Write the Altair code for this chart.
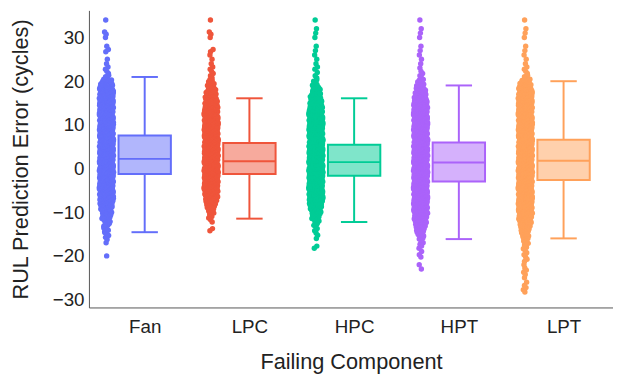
import altair as alt
import pandas as pd

categories = ["Fan", "LPC", "HPC", "HPT", "LPT"]
colors = ["#636efa", "#EF553B", "#00cc96", "#ab63fa", "#FFA15A"]

# histogram of the jittered points: 1-cycle bins centred at -29 ... 34
bin_centers = list(range(-29, 35))
fan_counts = [0, 0, 0, 0, 0, 0, 0, 0, 0,
              1, 0, 0, 1, 2, 3, 4, 5, 7, 10, 13, 17, 20,
              24, 24, 24, 24, 24, 24, 24, 24, 24, 24, 24, 24, 24,
              24, 24, 24, 24, 24, 24, 24, 24, 24, 24, 24, 24, 24,
              20, 12, 3, 2, 2, 1, 1, 0, 2, 1, 0, 1, 2, 0, 0, 1]
lpc_counts = [0, 0, 0, 0, 0, 0, 0, 0, 0, 0, 0, 0, 0, 0, 0,
              2, 0, 2, 3, 5, 8, 12, 17, 21,
              24, 24, 24, 24, 24, 24, 24, 24, 24, 24,
              24, 24, 24, 24, 24, 24, 24, 24, 24,
              22, 20, 17, 14, 10, 7, 4, 2, 2, 2, 1, 1, 1, 2, 0, 0, 1, 2, 0, 0, 1]
hpc_counts = [0, 0, 0, 0, 0, 0, 0, 0, 0, 0, 0,
              2, 0, 1, 2, 2, 3, 5, 8, 12, 16, 20,
              24, 24, 24, 24, 24, 24, 24, 24, 24, 24, 24,
              24, 24, 24, 24, 24, 24, 24, 24, 24, 24,
              21, 18, 15, 12, 9, 6, 3, 2, 1, 2, 1, 1, 1, 1, 1, 0, 1, 1, 1, 0, 1]
hpt_counts = [0, 0, 0, 0, 0, 0,
              1, 1, 0, 2, 1, 2, 3, 4, 6, 9, 13, 17, 20,
              24, 24, 24, 24, 24, 24, 24, 24, 24, 24, 24, 24, 24,
              24, 24, 24, 24, 24, 24, 24, 24, 24, 24, 24, 24,
              22, 19, 16, 12, 8, 5, 2, 2, 1, 1, 1, 1, 1, 1, 0, 1, 1, 1, 0, 1]
lpt_counts = [0, 2, 2, 1, 1, 2, 2, 1, 2, 2, 2, 3, 4, 5, 7, 10, 14, 18, 21,
              24, 24, 24, 24, 24, 24, 24, 24, 24, 24, 24, 24, 24, 24,
              24, 24, 24, 24, 24, 24, 24, 24, 24, 24, 24, 24, 24, 24,
              22, 17, 10, 3, 2, 2, 1, 1, 1, 1, 1, 0, 1, 1, 1, 0, 1]
all_counts = [fan_counts, lpc_counts, hpc_counts, hpt_counts, lpt_counts]

# box statistics (cycles)
lower_fence = [-14.57, -11.47, -12.24, -16.15, -15.99]
q1 = [-1.24, -1.24, -1.63, -2.98, -2.60]
median = [2.21, 1.69, 1.47, 1.40, 1.76]
q3 = [7.57, 5.83, 5.47, 5.98, 6.59]
upper_fence = [20.96, 16.08, 16.08, 19.02, 19.99]

# ---- build tables ----
rows = []
for ci, (cat, counts) in enumerate(zip(categories, all_counts)):
    for b, (yc, n) in enumerate(zip(bin_centers, counts)):
        hw = 0.068 * min(1.0, (n / 24) ** 0.5)
        for k in range(n):
            y = yc - 0.5 + (k + 0.5) / n
            u = (0.5 + (k + 1) * 0.6180339887 + b * 0.2718) % 1
            rows.append({"cat": cat, "px": ci - 0.365 + (2 * u - 1) * hw, "val": y})
pts = pd.DataFrame(rows)

box = pd.DataFrame({
    "cat": categories,
    "xc": list(range(len(categories))),
    "lo": lower_fence, "q1": q1, "med": median, "q3": q3, "hi": upper_fence,
})
box["xl"] = box["xc"] - 0.25
box["xr"] = box["xc"] + 0.25
box["cl"] = box["xc"] - 0.126
box["cr"] = box["xc"] + 0.126

FONT = "Liberation Sans"
xscale = alt.Scale(domain=[-0.5325, 4.472], nice=False, zero=False)
yscale = alt.Scale(domain=[-31.8, 36.2], nice=False, zero=False)
label_expr = "[" + ",".join("'%s'" % c for c in categories) + "][round(datum.value)]"
xaxis = alt.Axis(values=[0, 1, 2, 3, 4], labelExpr=label_expr, title="Failing Component",
                 labelFontSize=19, titleFontSize=22, labelPadding=10, titlePadding=16)
yaxis = alt.Axis(values=[-30, -20, -10, 0, 10, 20, 30], title="RUL Prediction Error (cycles)",
                 labelFontSize=19, titleFontSize=22, labelPadding=5, titlePadding=20)
cscale = alt.Scale(domain=categories, range=colors)

points = alt.Chart(pts).mark_circle(size=30, opacity=1).encode(
    x=alt.X("px:Q", scale=xscale, axis=xaxis),
    y=alt.Y("val:Q", scale=yscale, axis=yaxis),
    color=alt.Color("cat:N", scale=cscale, legend=None),
)

base = alt.Chart(box)
rect = base.mark_rect(fillOpacity=0.5, strokeWidth=2).encode(
    x=alt.X("xl:Q", scale=xscale, axis=xaxis), x2="xr:Q",
    y=alt.Y("q1:Q", scale=yscale, axis=yaxis), y2="q3:Q",
    fill=alt.Fill("cat:N", scale=cscale, legend=None),
    stroke=alt.Stroke("cat:N", scale=cscale, legend=None),
)
med = base.mark_rule(strokeWidth=2).encode(
    x=alt.X("xl:Q", scale=xscale, axis=xaxis), x2="xr:Q",
    y=alt.Y("med:Q", scale=yscale, axis=yaxis),
    color=alt.Color("cat:N", scale=cscale, legend=None),
)
wh_up = base.mark_rule(strokeWidth=2).encode(
    x=alt.X("xc:Q", scale=xscale, axis=xaxis),
    y=alt.Y("q3:Q", scale=yscale, axis=yaxis), y2="hi:Q",
    color=alt.Color("cat:N", scale=cscale, legend=None),
)
wh_lo = base.mark_rule(strokeWidth=2).encode(
    x=alt.X("xc:Q", scale=xscale, axis=xaxis),
    y=alt.Y("lo:Q", scale=yscale, axis=yaxis), y2="q1:Q",
    color=alt.Color("cat:N", scale=cscale, legend=None),
)
cap_up = base.mark_rule(strokeWidth=2).encode(
    x=alt.X("cl:Q", scale=xscale, axis=xaxis), x2="cr:Q",
    y=alt.Y("hi:Q", scale=yscale, axis=yaxis),
    color=alt.Color("cat:N", scale=cscale, legend=None),
)
cap_lo = base.mark_rule(strokeWidth=2).encode(
    x=alt.X("cl:Q", scale=xscale, axis=xaxis), x2="cr:Q",
    y=alt.Y("lo:Q", scale=yscale, axis=yaxis),
    color=alt.Color("cat:N", scale=cscale, legend=None),
)

chart = alt.layer(points, rect, med, wh_up, wh_lo, cap_up, cap_lo).properties(
    width=531, height=301,
    autosize=alt.AutoSizeParams(type="none"),
    padding={"left": 82, "top": 0, "right": 0, "bottom": 66},
    background="white",
).configure_view(stroke=None).configure_axis(
    grid=False, ticks=False, domainColor="#555", domainWidth=1,
    labelFont=FONT, titleFont=FONT, labelColor="#222", titleColor="#222",
    titleFontWeight="normal",
)

chart.save("out.html", embed_options={"renderer": "svg", "actions": False})
